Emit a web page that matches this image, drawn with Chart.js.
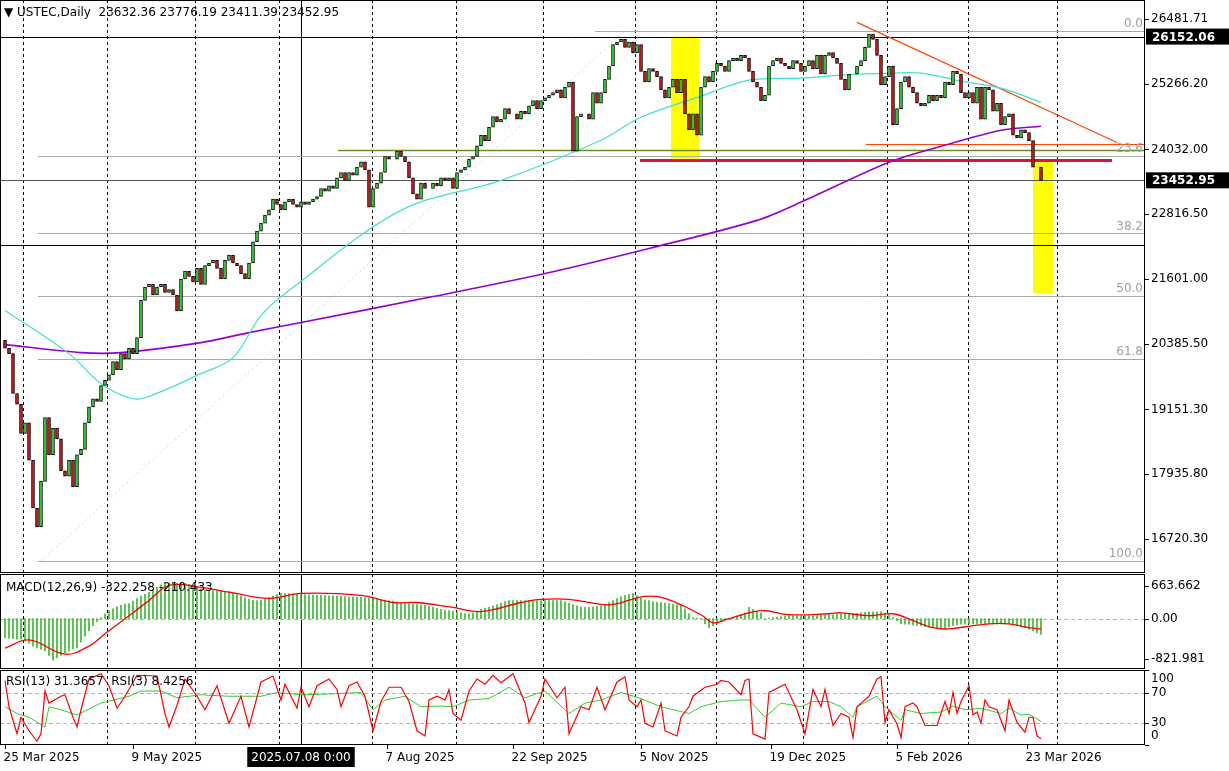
<!DOCTYPE html>
<html>
<head>
<meta charset="utf-8">
<script src="https://cdn.jsdelivr.net/npm/chart.js@4.4.1/dist/chart.umd.min.js"></script>
<style>
  html, body { margin: 0; padding: 0; background: #fff; }
  #wrap { position: relative; width: 1229px; height: 771px; overflow: hidden; }
  .pane { position: absolute; left: 0; width: 1229px; }
</style>
</head>
<body>
<div id="wrap">
  <div class="pane" style="top:0;height:573px"><canvas id="precio"></canvas></div>
  <div class="pane" style="top:573px;height:96px"><canvas id="macd"></canvas></div>
  <div class="pane" style="top:669px;height:102px"><canvas id="rsi"></canvas></div>
</div>
<script>
// Cierres diarios, una vela por índice
const cierres = [
  20300,20200,19450,19250,18700,18900,18200,17300,16950,17800,
  19000,18300,18800,18600,18000,17900,18200,17700,18300,18400,
  18900,19200,19350,19300,19600,19700,19800,20050,19900,20200,
  20100,20300,20200,20500,21200,21450,21500,21300,21450,21500,
  21350,21400,21300,21000,21600,21750,21650,21550,21800,21500,
  21850,21900,21950,21800,21600,21950,22050,21900,21850,21700,
  21600,21900,22300,22500,22650,22800,22900,23100,23000,22900,
  23050,23100,23000,22950,23050,23000,23050,23100,23150,23300,
  23250,23350,23300,23500,23600,23450,23600,23550,23700,23800,
  23650,22950,23300,23400,23600,23900,23850,23850,24000,23900,
  23800,23500,23200,23100,23400,23300,23300,23400,23350,23500,
  23450,23500,23300,23600,23650,23700,23850,23900,24100,24300,
  24200,24450,24650,24550,24600,24800,24700,24700,24600,24750,
  24700,24850,24950,24800,24950,25000,25050,25100,25150,25000,
  25200,25300,24000,24650,24700,24700,24600,25100,24900,25100,
  25350,25600,26000,26050,26100,25950,26050,25850,26000,25500,
  25300,25550,25500,25400,25150,25000,25200,25350,25100,25350,
  24700,24400,24700,24300,25200,25400,25300,25500,25650,25600,
  25500,25700,25750,25700,25800,25750,25500,25300,25200,24950,
  25050,25600,25700,25750,25650,25600,25550,25700,25650,25500,
  25600,25700,25550,25800,25450,25800,25850,25750,25650,25350,
  25150,25450,25450,25600,25700,25950,26200,26100,25800,25250,
  25400,25600,24500,24800,25300,25400,25200,25100,24900,24850,
  24900,25050,24950,25050,25000,25300,25250,25500,25450,25100,
  25000,25100,24900,25200,24600,25200,25150,24750,24900,24500,
  24650,24700,24300,24250,24400,24350,24200,23700,23700,23450
];
const aperturaInicial = 20450;

// Medias móviles: [índice de vela, valor]
const mediaCian = [[0,21008],[16,20199],[24,19634],[31,19371],[35,19371],[49,19823],[57,20124],[64,20914],[71,21384],[99,22889],[124,23453],[149,24206],[159,24638],[174,25033],[186,25334],[199,25372],[209,25428],[222,25466],[229,25466],[239,25316],[249,25184],[259,24920]];
const mediaMorada = [[0,20368],[19,20218],[29,20218],[49,20406],[61,20594],[74,20782],[107,21271],[135,21704],[161,22174],[188,22701],[200,23077],[221,23792],[235,24112],[249,24394],[259,24469]];

// MACD: histograma por vela y línea de señal
const macdHist = [
  -390,-400,-410,-420,-420,-450,-500,-560,-600,-630,
  -660,-750,-850,-800,-750,-700,-660,-620,-600,-480,
  -360,-250,-145,-60,20,100,165,200,240,270,
  300,310,360,410,460,500,540,590,640,690,
  725,725,725,720,720,720,700,670,640,610,
  590,580,575,570,565,560,550,520,490,460,
  430,400,380,370,380,400,430,460,490,515,
  515,510,505,500,495,490,485,480,478,475,
  470,468,465,460,455,450,445,440,438,435,
  430,420,410,400,390,380,370,360,345,330,
  320,310,300,290,280,270,250,230,210,190,
  175,165,150,135,120,105,100,120,150,190,
  215,230,260,290,320,350,370,370,370,370,
  370,370,370,370,370,370,370,370,370,370,
  350,320,290,260,230,230,230,240,250,260,
  290,330,370,410,450,475,495,515,470,420,
  380,370,350,340,330,320,310,300,290,270,
  200,100,20,10,0,-100,-185,-150,-110,-60,
  -20,0,30,60,90,120,230,190,150,120,
  0,10,20,30,40,50,60,60,60,60,
  60,60,60,65,70,70,75,80,90,100,
  100,100,100,110,120,130,140,140,140,140,
  110,90,20,-40,-100,-110,-120,-130,-140,-145,
  -160,-170,-185,-200,-210,-200,-170,-145,-130,-115,
  -110,-105,-105,-105,-105,-105,-105,-105,-105,-105,
  -105,-105,-110,-130,-160,-185,-220,-250,-290,-322
];
const macdSenal = [[0,-600],[6,-435],[15,-725],[21,-560],[25,-310],[31,60],[36,370],[41,680],[49,640],[56,540],[66,415],[74,515],[89,475],[97,330],[103,330],[112,230],[119,145],[129,330],[134,395],[141,395],[149,290],[152,290],[160,455],[165,415],[174,80],[177,-85],[181,0],[189,165],[196,80],[206,100],[209,120],[216,60],[222,100],[227,-40],[232,-185],[236,-210],[240,-165],[246,-105],[251,-105],[256,-185],[259,-210]];

// RSI(3) y RSI(13): [índice, valor]
const rsi3 = [[0,86],[1,51],[3,15],[4,37],[6,19],[8,5],[9,15],[10,72],[11,56],[14,65],[15,67],[17,37],[18,24],[19,47],[21,88],[24,95],[26,79],[28,49],[30,65],[33,93],[38,92],[40,42],[41,24],[43,53],[45,88],[48,65],[50,47],[53,79],[56,29],[59,65],[61,24],[64,84],[67,92],[69,60],[70,81],[73,49],[74,77],[76,51],[78,79],[81,88],[83,74],[84,51],[86,79],[88,84],[90,65],[92,19],[94,58],[96,77],[99,77],[101,58],[103,19],[105,12],[106,60],[108,65],[110,60],[111,74],[112,42],[114,33],[116,72],[118,88],[120,81],[122,93],[124,83],[127,95],[130,56],[131,30],[134,65],[135,88],[138,63],[140,77],[141,15],[144,51],[146,47],[148,77],[150,47],[153,84],[155,91],[156,60],[158,51],[159,60],[160,29],[162,24],[164,56],[165,19],[168,12],[169,37],[171,51],[172,65],[175,77],[178,81],[179,86],[181,84],[184,67],[185,86],[186,88],[187,15],[190,8],[191,70],[195,81],[198,47],[200,15],[202,74],[204,51],[205,74],[207,26],[209,42],[211,37],[212,10],[213,51],[216,65],[218,88],[219,91],[220,30],[221,47],[223,28],[224,10],[225,51],[227,56],[228,51],[230,26],[233,26],[235,58],[236,42],[237,70],[238,42],[239,58],[241,79],[242,40],[243,44],[244,29],[245,60],[246,51],[248,47],[250,19],[251,60],[253,30],[255,17],[256,37],[257,37],[258,12],[259,8.43]];
const rsi13 = [[0,51],[3,42],[6,37],[10,24],[11,51],[14,47],[18,40],[24,56],[31,65],[34,72],[39,72],[43,63],[49,67],[56,65],[64,65],[68,70],[74,67],[81,68],[89,70],[92,47],[95,60],[100,65],[104,51],[109,52],[112,51],[116,60],[121,62],[126,77],[130,63],[135,72],[141,42],[145,56],[149,60],[154,70],[159,62],[164,51],[171,42],[174,51],[179,58],[184,60],[186,60],[190,37],[194,56],[199,51],[202,58],[206,58],[209,51],[212,37],[213,51],[218,65],[220,51],[224,33],[225,47],[229,42],[234,44],[237,52],[240,47],[244,49],[249,42],[251,49],[254,40],[256,41],[259,31.4]];

// Etiquetas del eje de tiempo: [índice, texto]
const etiquetasFecha = [[0,'25 Mar 2025'],[32,'9 May 2025'],[95.5,'7 Aug 2025'],[127,'22 Sep 2025'],[159,'5 Nov 2025'],[191.5,'19 Dec 2025'],[223,'5 Feb 2026'],[255.5,'23 Mar 2026']];
const cursorIdx = 74;
const cursorTexto = '2025.07.08 0:00';
const separadores = [4.5,25.5,47.5,68.5,91.75,112.75,134.5,157.5,177.75,199.5,220.5,240.75,263];

// Niveles de precio
const ticksPrecio = [26481.71,25266.20,24032.00,22816.50,21601.00,20385.50,19151.30,17935.80,16720.30];
const ticksMacd = [663.662, 0, -821.981];
const ticksRsi = [100, 70, 30, 0];
const fibAlto = 26256, fibBajo = 16305;
const fibNiveles = [0, 23.6, 38.2, 50.0, 61.8, 100.0];
const nivelMax = 26152.06, ultimoPrecio = 23452.95, lineaNegra = 22231;
const lineaOliva = 24018, lineaRoja = 23830, lineaNaranja = 24130;
const tendencia = [[213, 26419], [278, 24162]];
const rectAmarillos = [[166.5, 173.5, 26152, 23830], [257, 262, 23830, 21328]];
const diagonal = [[9, 16305], [155, 26256]];

const FUENTE = '"DejaVu Sans", sans-serif';
const X_MIN = -1.25, X_MAX = 285;

// etiquetas del eje derecho de cada panel (por id del canvas)
const etiquetasEje = {
  precio: { lista: ticksPrecio, fmt: v => v.toFixed(2) },
  macd: { lista: ticksMacd, fmt: v => v === 0 ? '0.00' : v.toFixed(3) },
  rsi: { lista: ticksRsi, fmt: v => String(v) }
};

// Velas: apertura = cierre anterior
const velas = cierres.map((c, i) => {
  const o = i === 0 ? aperturaInicial : cierres[i - 1];
  return { x: i, y: [o, c], sube: c >= o };
});

function ejeX() {
  return { type: 'linear', min: X_MIN, max: X_MAX, display: false, offset: false };
}
function ejeDerecho(min, max) {
  return {
    position: 'right', min: min, max: max,
    grid: { display: false, drawTicks: false },
    border: { display: false },
    afterFit: s => { s.width = 84; },
    ticks: { display: false }
  };
}

// Plugin común: marco, separadores verticales y etiquetas del eje
const marco = {
  id: 'marco',
  beforeDatasetsDraw(chart) {
    const { ctx, chartArea: a, scales: { x } } = chart;
    ctx.save();
    ctx.strokeStyle = '#000'; ctx.lineWidth = 1; ctx.setLineDash([3, 3]);
    separadores.forEach(i => {
      const px = Math.round(x.getPixelForValue(i)) + 0.5;
      ctx.beginPath(); ctx.moveTo(px, a.top); ctx.lineTo(px, a.bottom); ctx.stroke();
    });
    ctx.setLineDash([]);
    const cx = Math.round(x.getPixelForValue(cursorIdx)) + 0.5;
    ctx.beginPath(); ctx.moveTo(cx, a.top); ctx.lineTo(cx, a.bottom); ctx.stroke();
    ctx.restore();
  },
  afterDraw(chart) {
    const { ctx, chartArea: a, scales: { y } } = chart;
    ctx.save();
    ctx.strokeStyle = '#000'; ctx.lineWidth = 1;
    ctx.strokeRect(a.left + 0.5, a.top + 0.5, a.right - a.left - 1, a.bottom - a.top - 1);
    const et = etiquetasEje[chart.canvas.id];
    ctx.font = '12px ' + FUENTE; ctx.fillStyle = '#000';
    ctx.textAlign = 'left'; ctx.textBaseline = 'middle';
    et.lista.forEach(v => {
      const py = y.getPixelForValue(v);
      const ty = Math.min(Math.max(py, a.top + 9), a.bottom - 9);
      ctx.beginPath(); ctx.moveTo(a.right, Math.round(py) + 0.5); ctx.lineTo(a.right + 4, Math.round(py) + 0.5); ctx.stroke();
      ctx.fillText(et.fmt(v), a.right + 6, ty);
    });
    ctx.restore();
  }
};

function lineaH(ctx, x, y, v, x0, x1, color, ancho, dash) {
  const py = Math.round(y.getPixelForValue(v)) + 0.5;
  ctx.strokeStyle = color; ctx.lineWidth = ancho; ctx.setLineDash(dash || []);
  ctx.beginPath(); ctx.moveTo(x0, py); ctx.lineTo(x1, py); ctx.stroke();
  ctx.setLineDash([]);
  return py;
}

const dibujoPrecio = {
  id: 'dibujoPrecio',
  beforeDatasetsDraw(chart) {
    const { ctx, chartArea: a, scales: { x, y } } = chart;
    ctx.save();
    ctx.beginPath(); ctx.rect(a.left, a.top, a.right - a.left, a.bottom - a.top); ctx.clip();
    // rectángulos amarillos
    ctx.fillStyle = '#ffff00';
    rectAmarillos.forEach(r => {
      const x0 = x.getPixelForValue(r[0]), x1 = x.getPixelForValue(r[1]);
      const y0 = y.getPixelForValue(r[2]), y1 = y.getPixelForValue(r[3]);
      ctx.fillRect(x0, y0, x1 - x0, y1 - y0);
    });
    // fibonacci
    const fx0 = x.getPixelForValue(8.25);
    fibNiveles.forEach(p => {
      const v = fibAlto - (fibAlto - fibBajo) * p / 100;
      const x0 = p === 0 ? x.getPixelForValue(147.5) : fx0;
      lineaH(ctx, x, y, v, x0, a.right, '#a9a9a9', 1);
    });
    // diagonal punteada
    ctx.strokeStyle = '#b0e0e6'; ctx.lineWidth = 1; ctx.setLineDash([2, 3]);
    ctx.beginPath();
    ctx.moveTo(x.getPixelForValue(diagonal[0][0]), y.getPixelForValue(diagonal[0][1]));
    ctx.lineTo(x.getPixelForValue(diagonal[1][0]), y.getPixelForValue(diagonal[1][1]));
    ctx.stroke(); ctx.setLineDash([]);
    // líneas horizontales
    lineaH(ctx, x, y, nivelMax, a.left, a.right, '#000', 1);
    lineaH(ctx, x, y, ultimoPrecio, a.left, a.right, '#555', 1);
    lineaH(ctx, x, y, lineaNegra, a.left, a.right, '#000', 1);
    lineaH(ctx, x, y, lineaOliva, x.getPixelForValue(83.25), a.right, '#6b8e23', 1.5);
    lineaH(ctx, x, y, lineaRoja, x.getPixelForValue(158.75), x.getPixelForValue(276.75), '#dc143c', 3);
    lineaH(ctx, x, y, lineaNaranja, x.getPixelForValue(215.25), a.right, '#ff4500', 1.2);
    // tendencia
    ctx.strokeStyle = '#ff4500'; ctx.lineWidth = 1.2;
    ctx.beginPath();
    ctx.moveTo(x.getPixelForValue(tendencia[0][0]), y.getPixelForValue(tendencia[0][1]));
    ctx.lineTo(x.getPixelForValue(tendencia[1][0]), y.getPixelForValue(tendencia[1][1]));
    ctx.stroke();
    ctx.restore();
  },
  afterDraw(chart) {
    const { ctx, chartArea: a, scales: { y } } = chart;
    ctx.save();
    // etiquetas fibonacci
    ctx.font = '12px ' + FUENTE; ctx.fillStyle = '#a0a0a0';
    ctx.textAlign = 'right'; ctx.textBaseline = 'bottom';
    fibNiveles.forEach(p => {
      const v = fibAlto - (fibAlto - fibBajo) * p / 100;
      ctx.fillText(p.toFixed(1), a.right - 2, y.getPixelForValue(v) - 1);
    });
    // cajas de precio
    ctx.textAlign = 'left'; ctx.textBaseline = 'middle';
    ctx.font = 'bold 12px ' + FUENTE;
    [nivelMax, ultimoPrecio].forEach(v => {
      const py = y.getPixelForValue(v);
      ctx.fillStyle = '#000'; ctx.fillRect(a.right + 1, py - 8, 83, 16);
      ctx.fillStyle = '#fff'; ctx.fillText(v.toFixed(2), a.right + 7, py + 1);
    });
    // cabecera
    ctx.fillStyle = '#000'; ctx.font = '12px ' + FUENTE;
    ctx.fillText('\u25BC USTEC,Daily  23632.36 23776.19 23411.39 23452.95', 4, 13);
    ctx.restore();
  }
};

// Gráfica de precio
new Chart(document.getElementById('precio'), {
  type: 'bar',
  data: {
    datasets: [
      {
        type: 'line', data: mediaCian.map(p => ({ x: p[0], y: p[1] })),
        borderColor: '#40e0d0', borderWidth: 1.2, pointRadius: 0, tension: 0.35, order: 1
      },
      {
        type: 'line', data: mediaMorada.map(p => ({ x: p[0], y: p[1] })),
        borderColor: '#9400d3', borderWidth: 1.6, pointRadius: 0, tension: 0.3, order: 1
      },
      {
        data: velas.map(v => ({ x: v.x, y: v.y })),
        backgroundColor: velas.map(v => v.sube ? '#32e032' : '#e01414'),
        borderColor: '#000', borderWidth: 1, borderSkipped: false,
        barThickness: 3, grouped: false, order: 0
      }
    ]
  },
  options: {
    responsive: true, maintainAspectRatio: false, animation: false,
    layout: { padding: 0 },
    plugins: { legend: { display: false }, tooltip: { enabled: false } },
    scales: { x: ejeX(), y: ejeDerecho(16080, 26839) }
  },
  plugins: [marco, dibujoPrecio]
});

// Gráfica MACD
const dibujoMacd = {
  id: 'dibujoMacd',
  beforeDatasetsDraw(chart) {
    const { ctx, chartArea: a, scales: { x, y } } = chart;
    ctx.save();
    lineaH(ctx, x, y, 0, a.left, a.right, '#b0b0b0', 1, [4, 3]);
    ctx.restore();
  },
  afterDraw(chart) {
    const { ctx } = chart;
    ctx.save();
    ctx.font = '12px ' + FUENTE; ctx.fillStyle = '#000'; ctx.textBaseline = 'middle';
    ctx.fillText('MACD(12,26,9) -322.258 -210.433', 6, 15);
    ctx.restore();
  }
};
new Chart(document.getElementById('macd'), {
  type: 'bar',
  data: {
    datasets: [
      {
        type: 'line', data: macdSenal.map(p => ({ x: p[0], y: p[1] })),
        borderColor: '#ff0000', borderWidth: 1.3, pointRadius: 0, tension: 0.4, order: 0
      },
      {
        data: macdHist.map((v, i) => ({ x: i, y: [0, v] })),
        backgroundColor: '#3cb832', barThickness: 1, grouped: false, order: 1
      }
    ]
  },
  options: {
    responsive: true, maintainAspectRatio: false, animation: false,
    layout: { padding: { top: 1, bottom: 0 } },
    plugins: { legend: { display: false }, tooltip: { enabled: false } },
    scales: { x: ejeX(), y: ejeDerecho(-1028, 912) }
  },
  plugins: [marco, dibujoMacd]
});

// Gráfica RSI con eje de fechas
const dibujoRsi = {
  id: 'dibujoRsi',
  beforeDatasetsDraw(chart) {
    const { ctx, chartArea: a, scales: { x, y } } = chart;
    ctx.save();
    lineaH(ctx, x, y, 70, a.left, a.right, '#b0b0b0', 1, [4, 3]);
    lineaH(ctx, x, y, 30, a.left, a.right, '#b0b0b0', 1, [4, 3]);
    ctx.restore();
  },
  afterDraw(chart) {
    const { ctx, chartArea: a, scales: { x } } = chart;
    ctx.save();
    ctx.font = '12px ' + FUENTE; ctx.fillStyle = '#000'; ctx.textBaseline = 'middle';
    ctx.fillText('RSI(13) 31.3657  RSI(3) 8.4256', 6, a.top + 12);
    const ty = a.bottom + 13;
    ctx.strokeStyle = '#000'; ctx.lineWidth = 1;
    etiquetasFecha.forEach(e => {
      const px = Math.round(x.getPixelForValue(e[0])) + 0.5;
      ctx.beginPath(); ctx.moveTo(px, a.bottom); ctx.lineTo(px, a.bottom + 4); ctx.stroke();
      ctx.fillStyle = '#000'; ctx.fillText(e[1], px - 2, ty);
    });
    const cx = x.getPixelForValue(cursorIdx);
    const w = ctx.measureText(cursorTexto).width + 8;
    ctx.fillStyle = '#000'; ctx.fillRect(cx - w / 2, a.bottom + 2, w, 20);
    ctx.fillStyle = '#fff'; ctx.textAlign = 'center'; ctx.fillText(cursorTexto, cx, ty);
    ctx.restore();
  }
};
new Chart(document.getElementById('rsi'), {
  type: 'line',
  data: {
    datasets: [
      { data: rsi3.map(p => ({ x: p[0], y: p[1] })), borderColor: '#ff0000', borderWidth: 1.2, pointRadius: 0 },
      { data: rsi13.map(p => ({ x: p[0], y: p[1] })), borderColor: '#32cd32', borderWidth: 1, pointRadius: 0 }
    ]
  },
  options: {
    responsive: true, maintainAspectRatio: false, animation: false,
    layout: { padding: { top: 1, bottom: 26 } },
    plugins: { legend: { display: false }, tooltip: { enabled: false } },
    scales: { x: ejeX(), y: ejeDerecho(0, 100) }
  },
  plugins: [marco, dibujoRsi]
});
</script>
</body>
</html>
